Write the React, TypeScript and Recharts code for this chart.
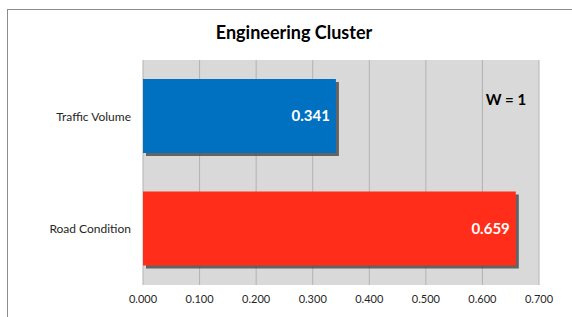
import React from "react";
import { BarChart, Bar, XAxis, YAxis, CartesianGrid, Cell, LabelList, Customized } from "recharts";

const categories = ["Traffic Volume", "Road Condition"];
const values = [0.341, 0.659];
const colors = ["#0070c0", "#ff2d19"];
const xTicks = [0, 0.1, 0.2, 0.3, 0.4, 0.5, 0.6, 0.7];
const title = "Engineering Cluster";
const note = "W = 1";

const data = categories.map((name, i) => ({ name, value: values[i], color: colors[i] }));

const FONT = "Lato, 'Open Sans', sans-serif";

const ShadowBar = (props: any) => {
  const { x, y, width, height, fill } = props;
  if (width <= 0) return null;
  return (
    <g>
      <rect x={x + 3} y={y + 3} width={width} height={height} fill="#4d4d4d" opacity={0.85} />
      <rect x={x} y={y} width={width} height={height} fill={fill} />
    </g>
  );
};

export default function App() {
  return (
    <div style={{ position: "fixed", left: 0, top: 0, width: 572, height: 317, background: "#fff" }}>
      <div style={{ position: "absolute", left: 7, top: 9, width: 565, height: 308, borderLeft: "1px solid #8c8c8c", borderTop: "1px solid #8c8c8c" }} />
      <div style={{ position: "absolute", left: 0, top: 0 }}>
        <BarChart
          width={572}
          height={317}
          data={data}
          layout="vertical"
          margin={{ top: 60, right: 33, bottom: 0, left: 0 }}
          barSize={74}
        >
          <CartesianGrid horizontal={false} vertical={true} fill="#d9d9d9" stroke="#b3b3b3" fillOpacity={1} />
          <XAxis
            type="number"
            domain={[0, 0.7]}
            ticks={xTicks}
            tickFormatter={(v: number) => v.toFixed(3)}
            axisLine={false}
            tickLine={false}
            tickSize={0}
            tickMargin={10}
            height={32}
            interval={0}
            tick={{ fontSize: 11, fill: "#262626", fontFamily: FONT }}
          />
          <YAxis
            type="category"
            dataKey="name"
            width={143}
            axisLine={false}
            tickLine={false}
            tickSize={0}
            tickMargin={12}
            tick={{ fontSize: 12, fill: "#262626", fontFamily: FONT }}
          />
          <Bar dataKey="value" isAnimationActive={false} shape={<ShadowBar />}>
            {data.map((d, i) => (
              <Cell key={i} fill={d.color} />
            ))}
            <LabelList
              dataKey="value"
              position="insideRight"
              offset={6}
              formatter={(v: number) => v.toFixed(3)}
              style={{ fill: "#ffffff", fontSize: 15, fontWeight: 700, fontFamily: FONT }}
            />
          </Bar>
          <Customized
            component={() => (
              <g>
                <text x={294} y={39} textAnchor="middle" fontSize={18} fontWeight={700} fill="#000" fontFamily={FONT}>
                  {title}
                </text>
                <text x={506} y={105} textAnchor="middle" fontSize={15} fontWeight={700} fill="#000" fontFamily={FONT}>
                  {note}
                </text>
              </g>
            )}
          />
        </BarChart>
      </div>
    </div>
  );
}
